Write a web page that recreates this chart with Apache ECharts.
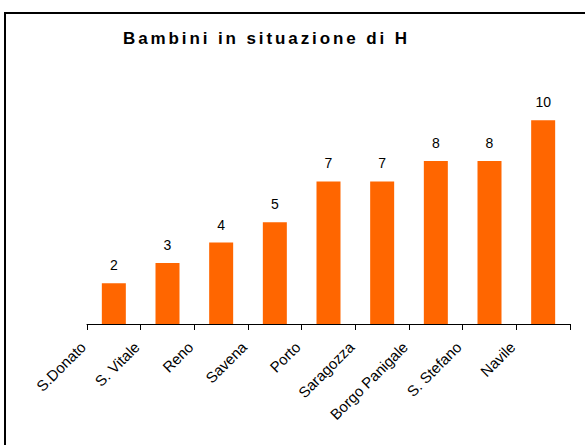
<!DOCTYPE html>
<html>
<head>
<meta charset="utf-8">
<script src="https://cdn.jsdelivr.net/npm/echarts@6/dist/echarts.min.js"></script>
<style>
html,body{margin:0;padding:0;background:#fff;}
#chart{width:585px;height:445px;}
#chart text[style*="bold"]{letter-spacing:2.9px;}
</style>
</head>
<body>
<div id="chart"></div>
<script>
var titleText = 'Bambini in situazione di H';
var categories = ['S.Donato', 'S. Vitale', 'Reno', 'Savena', 'Porto', 'Saragozza', 'Borgo Panigale', 'S. Stefano', 'Navile'];
var values = [2, 3, 4, 5, 7, 7, 8, 8, 10];

var chart = echarts.init(document.getElementById('chart'), null, {renderer: 'svg'});
chart.setOption({
  animation: false,
  backgroundColor: '#fff',
  title: {
    text: titleText,
    left: 123,
    top: 30,
    padding: 0,
    textStyle: {fontFamily: 'Liberation Sans, Arial', fontWeight: 'bold', fontSize: 17, color: '#000'}
  },
  graphic: [{
    type: 'rect',
    shape: {x: 5, y: 13, width: 620, height: 480},
    style: {fill: 'none', stroke: '#000', lineWidth: 2},
    silent: true
  }],
  grid: {left: 87, right: 15, top: 100, bottom: 121},
  xAxis: {
    type: 'category',
    data: categories,
    axisLine: {show: true, lineStyle: {color: '#000', width: 1}},
    axisTick: {show: true, length: 6, lineStyle: {color: '#000'}},
    axisLabel: {
      rotate: 45,
      interval: 0,
      margin: -21,
      align: 'right',
      verticalAlign: 'top',
      padding: [0, 51, 0, 0],
      fontFamily: 'Liberation Sans, Arial',
      fontSize: 15,
      color: '#000'
    }
  },
  yAxis: {
    type: 'value',
    min: 0,
    max: 11,
    show: false,
    splitLine: {show: false}
  },
  series: [{
    type: 'bar',
    data: values,
    barWidth: 24,
    itemStyle: {color: '#FF6600'},
    label: {
      show: true,
      position: 'top',
      distance: 11,
      fontFamily: 'Liberation Sans, Arial',
      fontSize: 14,
      color: '#000'
    }
  }]
});
</script>
</body>
</html>
